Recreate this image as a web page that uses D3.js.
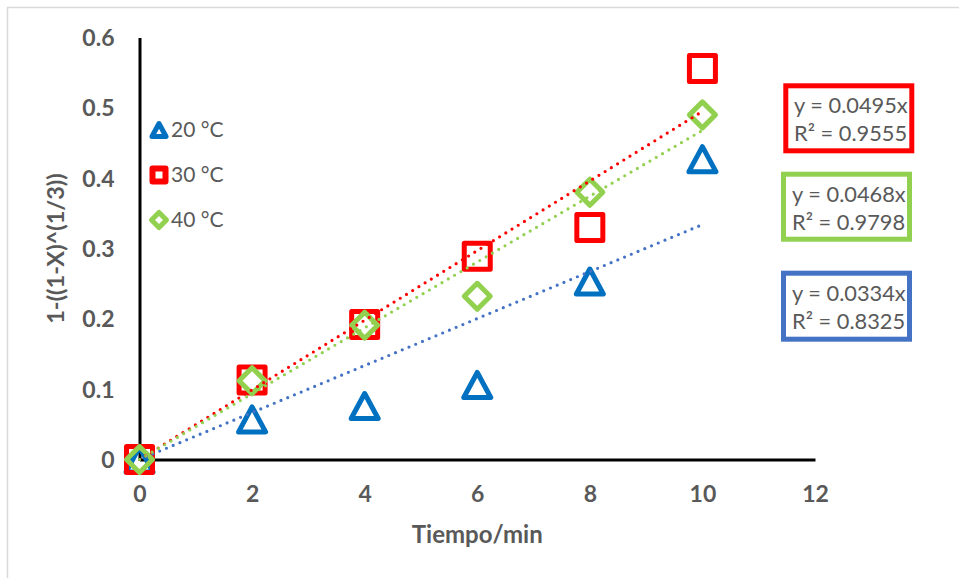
<!DOCTYPE html>
<html><head><meta charset="utf-8">
<script src="https://cdn.jsdelivr.net/npm/d3@7"></script>
<style>
html,body{margin:0;padding:0;background:#fff;overflow:hidden}
text{font-family:Lato,"Open Sans",sans-serif}
</style></head>
<body><svg id="c" width="959" height="578"></svg>
<script>
// ---- data ----
const tiempo = [0, 2, 4, 6, 8, 10];
const serie20 = [0, 0.057, 0.076, 0.106, 0.253, 0.427];
const serie30 = [0, 0.113, 0.192, 0.289, 0.330, 0.556];
const serie40 = [0, 0.112, 0.191, 0.232, 0.380, 0.490];
const seriesNames = ["20 °C", "30 °C", "40 °C"];
const slopes = [0.0334, 0.0495, 0.0468];
const r2 = [0.8325, 0.9555, 0.9798];
const xTicks = [0, 2, 4, 6, 8, 10, 12];
const yTicks = [0, 0.1, 0.2, 0.3, 0.4, 0.5, 0.6];
const xTitle = "Tiempo/min";
const yTitle = "1-((1-X)^(1/3))";

const colors = ["#0070c0", "#ff0000", "#92d050"];
const trendColors = ["#4472c4", "#ff0000", "#92d050"];
const allSeries = [serie20, serie30, serie40];

const svg = d3.select("#c");
const x = d3.scaleLinear().domain([0, 12]).range([139.5, 815]);
const y = d3.scaleLinear().domain([0, 0.6]).range([459.5, 37.5]);
const grey = "#595959";

// chart border
svg.append("rect").attr("x", 7.5).attr("y", 7.5).attr("width", 1000).attr("height", 1000)
  .attr("fill", "none").attr("stroke", "#d9d9d9").attr("stroke-width", 1.5);

// axes
const xAxis = d3.axisBottom(x).tickValues(xTicks).tickSize(0).tickPadding(0).tickFormat(d3.format("d"));
const gx = svg.append("g").attr("transform", `translate(0,${y(0)})`).call(xAxis);
gx.select(".domain").attr("stroke", "#000").attr("stroke-width", 3);
gx.selectAll("text").attr("y", 42).attr("dy", null).attr("font-size", 23).attr("font-weight", "bold").attr("fill", grey);

const yAxis = d3.axisLeft(y).tickValues(yTicks).tickSize(0).tickPadding(0).tickFormat(d => d === 0 ? "0" : d3.format(".1f")(d));
const gy = svg.append("g").attr("transform", `translate(${x(0)},0)`).call(yAxis);
gy.select(".domain").attr("stroke", "#000").attr("stroke-width", 3);
gy.selectAll("text").attr("x", -25).attr("dy", "0.35em").attr("font-size", 23).attr("font-weight", "bold").attr("fill", grey);

// titles
svg.append("text").attr("x", (x(0) + x(12)) / 2).attr("y", 543).attr("text-anchor", "middle")
  .attr("font-size", 24).attr("font-weight", "bold").attr("fill", grey).text(xTitle);
svg.append("text").attr("transform", `translate(64,${(y(0) + y(0.6)) / 2}) rotate(-90)`).attr("text-anchor", "middle")
  .attr("font-size", 23.5).attr("font-weight", "bold").attr("fill", grey).text(yTitle);

// marker shapes
function markerPath(type, s) {
  if (type === 0) return `M0,${-s}L${s * 1.08},${s}L${-s * 1.08},${s}Z`;
  if (type === 1) return `M${-s},${-s}L${s},${-s}L${s},${s}L${-s},${s}Z`;
  return `M0,${-s}L${s},0L0,${s}L${-s},0Z`;
}

// series markers
allSeries.forEach((vals, i) => {
  svg.append("g").selectAll("path").data(vals).join("path")
    .attr("transform", (d, j) => `translate(${x(tiempo[j])},${y(d)})`)
    .attr("d", markerPath(i, i === 0 ? 12.5 : 13))
    .attr("fill", "none").attr("stroke", colors[i]).attr("stroke-width", 5)
    .attr("stroke-linejoin", "round");
});

// trend lines (linear through origin)
slopes.forEach((m, i) => {
  svg.append("line").attr("x1", x(0)).attr("y1", y(0)).attr("x2", x(10)).attr("y2", y(m * 10))
    .attr("stroke", trendColors[i]).attr("stroke-width", 3.2).attr("stroke-linecap", "round")
    .attr("stroke-dasharray", "0 7.3");
});

// legend
const legY = [130, 175, 220];
seriesNames.forEach((n, i) => {
  svg.append("path").attr("transform", `translate(159,${legY[i]})`)
    .attr("d", markerPath(i, i === 2 ? 7.5 : 6.5)).attr("fill", "none").attr("stroke", colors[i])
    .attr("stroke-width", i === 1 ? 6 : 5).attr("stroke-linejoin", "round");
  svg.append("text").attr("x", 171).attr("y", legY[i]).attr("dy", "0.35em")
    .attr("font-size", 21).attr("fill", grey).text(n);
});

// equation boxes
const boxes = [
  {i: 1, x: 785.8, y: 85.8, w: 126, h: 65, tx: 794, l1: 105, l2: 133},
  {i: 2, x: 783.5, y: 174.2, w: 126, h: 65, tx: 792, l1: 194, l2: 222.5},
  {i: 0, x: 783.5, y: 273.2, w: 126, h: 66, tx: 792, l1: 293.5, l2: 321.5}
];
boxes.forEach(b => {
  svg.append("rect").attr("x", b.x).attr("y", b.y).attr("width", b.w).attr("height", b.h)
    .attr("fill", "#fff").attr("stroke", trendColors[b.i]).attr("stroke-width", 5);
  svg.append("text").attr("x", b.tx).attr("y", b.l1).attr("dy", "0.35em").attr("font-size", 21.8)
    .attr("fill", grey).text(`y = ${d3.format(".4f")(slopes[b.i])}x`);
  svg.append("text").attr("x", b.tx).attr("y", b.l2).attr("dy", "0.35em").attr("font-size", 21.8)
    .attr("fill", grey).text(`R² = ${d3.format(".4f")(r2[b.i])}`);
});
</script></body></html>
